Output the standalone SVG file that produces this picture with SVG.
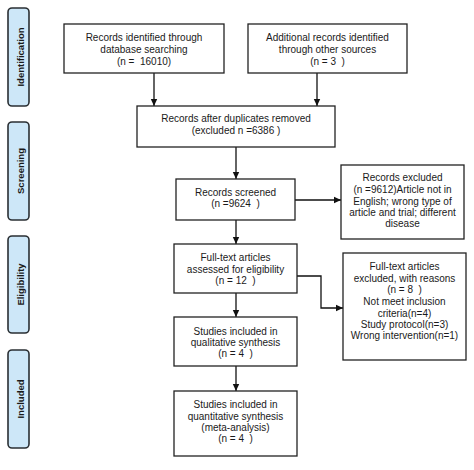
<svg xmlns="http://www.w3.org/2000/svg" width="474" height="470" viewBox="0 0 474 470" xml:space="preserve">
<defs>
<marker id="ah" markerWidth="8" markerHeight="8" refX="7" refY="4" orient="auto" markerUnits="userSpaceOnUse">
<path d="M0,0.8 L7,4 L0,7.2 z" fill="#111"/>
</marker>
<style>
.box{fill:#fff;stroke:#222;stroke-width:1.3}
.tab{fill:#cde7f8;stroke:#2a2f33;stroke-width:1.6}
.t{font-family:"Liberation Sans",Arial,sans-serif;font-size:10px;fill:#1a1a1a;text-anchor:middle;white-space:pre}
.tl{font-family:"Liberation Sans",Arial,sans-serif;font-size:9.5px;font-weight:bold;fill:#1a1a1a;text-anchor:middle}
.c{fill:none;stroke:#111;stroke-width:1.3}
</style>
</defs>
<rect width="474" height="470" fill="#fff"/>
<g id="tab-identification"><rect class="tab" x="8" y="8" width="21" height="98" rx="4"/><text class="tl" transform="translate(23.5,57) rotate(-90)">Identification</text></g>
<g id="tab-screening"><rect class="tab" x="8" y="122" width="21" height="98" rx="4"/><text class="tl" transform="translate(23.5,171) rotate(-90)">Screening</text></g>
<g id="tab-eligibility"><rect class="tab" x="8" y="236" width="21" height="97" rx="4"/><text class="tl" transform="translate(23.5,284.5) rotate(-90)">Eligibility</text></g>
<g id="tab-included"><rect class="tab" x="8" y="350" width="21" height="98" rx="4"/><text class="tl" transform="translate(23.5,399) rotate(-90)">Included</text></g>

<g id="connectors">
<line class="c" x1="154" y1="73" x2="154" y2="106" marker-end="url(#ah)"/>
<line class="c" x1="317" y1="73" x2="317" y2="106" marker-end="url(#ah)"/>
<line class="c" x1="236" y1="147" x2="236" y2="179" marker-end="url(#ah)"/>
<line class="c" x1="295" y1="200" x2="341" y2="200" marker-end="url(#ah)"/>
<line class="c" x1="236" y1="220" x2="236" y2="244" marker-end="url(#ah)"/>
<polyline class="c" points="297,276 321,276 321,308 343,308" marker-end="url(#ah)"/>
<line class="c" x1="236" y1="293" x2="236" y2="317" marker-end="url(#ah)"/>
<line class="c" x1="236" y1="366" x2="236" y2="391" marker-end="url(#ah)"/>
</g>

<g id="n-database"><rect class="box" x="64" y="24" width="160" height="49"/>
<text class="t" x="144" y="41">Records identified through</text>
<text class="t" x="144" y="53">database searching</text>
<text class="t" x="144" y="65">(n =  16010)</text></g>
<g id="n-other"><rect class="box" x="248" y="24" width="159" height="49"/>
<text class="t" x="327.5" y="41">Additional records identified</text>
<text class="t" x="327.5" y="53">through other sources</text>
<text class="t" x="327.5" y="65">(n = 3  )</text></g>
<g id="n-duplicates"><rect class="box" x="137" y="106" width="198" height="41"/>
<text class="t" x="236" y="122">Records after duplicates removed</text>
<text class="t" x="236" y="134">(excluded n =6386 )</text></g>
<g id="n-screened"><rect class="box" x="176" y="179" width="119" height="41"/>
<text class="t" x="235.5" y="196">Records screened</text>
<text class="t" x="235.5" y="207">(n =9624  )</text></g>
<g id="n-excluded"><rect class="box" x="341" y="165" width="123" height="74"/>
<text class="t" x="402.5" y="181">Records excluded</text>
<text class="t" x="402.5" y="193">(n =9612)Article not in</text>
<text class="t" x="402.5" y="205">English; wrong type of</text>
<text class="t" x="402.5" y="216">article and trial; different</text>
<text class="t" x="402.5" y="227">disease</text></g>
<g id="n-fulltext"><rect class="box" x="174" y="244" width="123" height="49"/>
<text class="t" x="235.5" y="261">Full-text articles</text>
<text class="t" x="235.5" y="273">assessed for eligibility</text>
<text class="t" x="235.5" y="284">(n = 12  )</text></g>
<g id="n-ftexcluded"><rect class="box" x="343" y="253" width="123" height="107"/>
<text class="t" x="404.5" y="270">Full-text articles</text>
<text class="t" x="404.5" y="282">excluded, with reasons</text>
<text class="t" x="404.5" y="293">(n = 8  )</text>
<text class="t" x="404.5" y="305">Not meet inclusion</text>
<text class="t" x="404.5" y="317">criteria(n=4)</text>
<text class="t" x="404.5" y="328">Study protocol(n=3)</text>
<text class="t" x="404.5" y="339">Wrong intervention(n=1)</text></g>
<g id="n-qualitative"><rect class="box" x="174" y="317" width="123" height="49"/>
<text class="t" x="235.5" y="335">Studies included in</text>
<text class="t" x="235.5" y="346">qualitative synthesis</text>
<text class="t" x="235.5" y="357">(n = 4  )</text></g>
<g id="n-quantitative"><rect class="box" x="174" y="391" width="123" height="65"/>
<text class="t" x="235.5" y="408">Studies included in</text>
<text class="t" x="235.5" y="420">quantitative synthesis</text>
<text class="t" x="235.5" y="431">(meta-analysis)</text>
<text class="t" x="235.5" y="442">(n = 4  )</text></g>
</svg>
